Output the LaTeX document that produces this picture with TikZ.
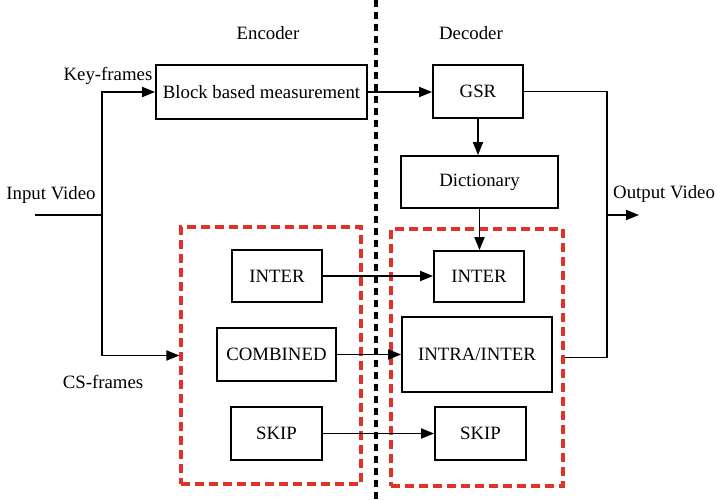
\documentclass[tikz,border=0pt]{standalone}
\usepackage{fontspec}
\setmainfont{Liberation Serif}
\usetikzlibrary{arrows.meta}
\begin{document}
\begin{tikzpicture}[x=1pt,y=-1pt,
  every node/.style={font=\fontsize{18.8}{21}\selectfont},
  blk/.style={draw,line width=1.8pt,inner sep=0pt,anchor=center},
  grp/.style={draw={rgb,255:red,225;green,50;blue,40},line width=3.2pt,
              dash pattern=on 9pt off 5pt,inner sep=0pt,anchor=center},
  wire/.style={line width=1.8pt},
  arr/.style={wire,-{Triangle[length=13pt,width=10pt]}},
  lbl/.style={inner sep=0pt}]
\useasboundingbox (0,0) rectangle (717,500);

% encoder / decoder separation
\draw[line width=3.6pt,dash pattern=on 7pt off 5pt] (376,0) -- (376,500);
\node[lbl] (enc) at (268,33) {Encoder};
\node[lbl] (dec) at (471,33) {Decoder};

% dashed groups of coding modes
\node[grp,minimum width=180pt,minimum height=257pt] (encbox) at (271,355.5) {};
\node[grp,minimum width=172pt,minimum height=257pt] (decbox) at (477,357.5) {};

% blocks
\node[blk,minimum width=211pt,minimum height=54pt] (bbm) at (261.5,92) {Block based measurement};
\node[blk,minimum width=90pt,minimum height=53pt] (gsr) at (478,91.5) {GSR};
\node[blk,minimum width=157pt,minimum height=52pt] (dict) at (479.5,182) {Dictionary};
\node[blk,minimum width=90pt,minimum height=52pt] (einter) at (277,276) {INTER};
\node[blk,minimum width=119pt,minimum height=53pt] (comb) at (276.5,354.5) {COMBINED};
\node[blk,minimum width=91pt,minimum height=53pt] (eskip) at (276.5,433.5) {SKIP};
\node[blk,minimum width=90pt,minimum height=51pt] (dinter) at (479,276.5) {INTER};
\node[blk,minimum width=150pt,minimum height=75pt] (intra) at (477,354.5) {INTRA/INTER};
\node[blk,minimum width=91pt,minimum height=53pt] (dskip) at (480.5,433.5) {SKIP};

% input side
\node[lbl] (invid) at (51,195) {Input Video};
\node[lbl] (keyf) at (108,76) {Key-frames};
\node[lbl] (csf) at (103,382) {CS-frames};
\coordinate (in) at (35,215);
\coordinate (split) at (102,215);
\draw[wire] (in) -- (split);
\draw[arr] (split) |- (bbm.west);
\draw[arr] (split) |- (encbox.west);

% encoder to decoder
\draw[arr] (bbm.east) -- (bbm.east -| gsr.west);
\draw[arr] (einter.east) -- (einter.east -| dinter.west);
\draw[arr] (comb.east) -- (intra.west);
\draw[arr] (eskip.east) -- (dskip.west);

% decoder internals
\draw[arr] (gsr.south) -- (gsr.south |- dict.north);
\draw[arr] (dict.south) -- (dinter.north -| dict.south);

% output side
\coordinate (merge) at (607,215);
\coordinate (out) at (639,215);
\draw[wire] (gsr.east) -| (merge) |- (decbox.east);
\draw[arr] (merge) -- (out);
\node[lbl,anchor=west] (outvid) at (613,194) {Output Video};
\end{tikzpicture}
\end{document}
